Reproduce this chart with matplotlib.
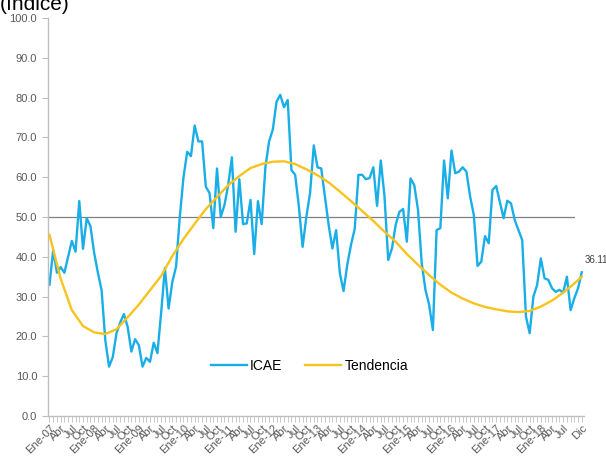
import matplotlib.pyplot as plt

plt.rcParams['font.family'] = ['Liberation Sans', 'DejaVu Sans']

# ICAE mensual, Ene-07 a Dic-18
icae = [33.0, 41.7, 36.0, 37.4, 36.0, 40.0, 44.0, 41.3, 54.0, 42.0, 49.7, 47.7,
        41.0, 36.0, 31.6, 19.0, 12.4, 14.8, 20.8, 23.5, 25.6, 22.4, 16.2, 19.3,
        17.8, 12.4, 14.6, 13.6, 18.4, 15.8, 26.0, 37.2, 27.0, 33.7, 37.5, 50.0,
        60.0, 66.4, 65.3, 73.0, 69.0, 69.0, 57.6, 56.0, 47.2, 62.2, 50.0, 53.0,
        58.0, 65.0, 46.3, 59.5, 48.2, 48.4, 54.3, 40.7, 54.0, 48.2, 62.5, 69.0,
        72.0, 79.0, 80.7, 77.6, 79.4, 61.8, 60.6, 52.6, 42.5, 50.0, 56.0, 68.0,
        62.5, 62.2, 55.0, 48.0, 42.1, 46.7, 35.9, 31.4, 38.0, 43.0, 47.0, 60.6,
        60.6, 59.5, 59.8, 62.5, 52.8, 64.2, 55.2, 39.2, 42.1, 48.0, 51.3, 52.0,
        43.8, 59.7, 58.0, 51.8, 38.4, 31.7, 27.9, 21.6, 46.7, 47.2, 64.2, 54.7,
        66.7, 61.0, 61.4, 62.5, 61.4, 55.2, 50.5, 37.7, 38.8, 45.2, 43.4, 56.8,
        57.8, 53.8, 49.7, 54.1, 53.4, 49.2, 46.7, 44.2, 25.0, 20.8, 30.0, 32.9,
        39.6, 34.6, 34.2, 32.1, 31.2, 31.7, 31.0, 35.0, 26.6, 29.6, 32.1, 36.11]

# tendencia leida cada tres meses (y el ultimo mes)
tend_mes = list(range(0, 142, 3)) + [143]
tendencia = [45.5, 34.5, 26.6, 22.6, 21.0, 20.6, 21.8, 24.8, 28.0, 31.6, 35.2, 40.2,
             44.5, 48.3, 52.0, 55.0, 58.0, 60.3, 62.3, 63.3, 63.9, 64.0, 63.3, 62.0,
             60.5, 58.7, 56.4, 54.0, 51.5, 49.0, 46.3, 43.8, 40.7, 38.0, 35.4, 33.0,
             31.0, 29.5, 28.3, 27.4, 26.8, 26.3, 26.1, 26.4, 27.5, 29.0, 31.0, 33.3,
             35.0]

linea_ref = 50.0
n_ref = 142

meses = ['Ene', 'Abr', 'Jul', 'Oct']
anios = ['07', '08', '09', '10', '11', '12', '13', '14', '15', '16', '17', '18']
etiquetas = []
for a in anios:
    etiquetas.append('Ene-' + a)
    etiquetas += meses[1:]
pos_etiq = list(range(0, 139, 3)) + [143]
etiquetas = etiquetas[:-1] + ['Dic']

x = list(range(len(icae)))

fig = plt.figure(figsize=(6.06, 4.59), dpi=100)
ax = fig.add_axes([0.0786, 0.0937, 0.8845, 0.867])

ax.plot(x[:n_ref], [linea_ref] * n_ref, color='#808080', lw=0.9, zorder=1)
ax.plot(x, icae, color='#1AAEE8', lw=1.7, label='ICAE', zorder=2)
ax.plot(tend_mes, tendencia, color='#F7C31C', lw=1.7, label='Tendencia', zorder=3)

ax.annotate('36.11', xy=(x[-1], icae[-1]), xytext=(2, 5), textcoords='offset points',
            fontsize=7, color='#404040', ha='left', va='bottom', annotation_clip=False)

ax.set_xlim(-0.5, len(icae) - 0.5)
ax.set_ylim(0, 100)
ax.set_yticks(range(0, 101, 10))
ax.set_yticklabels([f'{v:.1f}' for v in range(0, 101, 10)])
ax.set_xticks(pos_etiq)
ax.set_xticklabels(etiquetas, rotation=45, ha='right', rotation_mode='anchor')
ax.set_xticks(x, minor=True)

for s in ['top', 'right']:
    ax.spines[s].set_visible(False)
for s in ['left', 'bottom']:
    ax.spines[s].set_color('#BFBFBF')
    ax.spines[s].set_linewidth(1.0)

ax.tick_params(axis='y', labelsize=8, colors='#BFBFBF', labelcolor='#595959', length=4, width=0.8)
ax.tick_params(axis='x', which='major', labelsize=8, colors='#BFBFBF', labelcolor='#595959',
               length=4, width=0.6, pad=1)
ax.tick_params(axis='x', which='minor', colors='#BFBFBF', length=4, width=0.6)

ax.legend(loc='center', bbox_to_anchor=(0.488, 0.126), ncol=2, frameon=False,
          fontsize=10, handlelength=2.6, columnspacing=1.6, handletextpad=0.25)

fig.text(0.0, 0.979, '(índice)', fontsize=15, ha='left', va='baseline', color='#000000')

fig.savefig('out.png', dpi=100)
